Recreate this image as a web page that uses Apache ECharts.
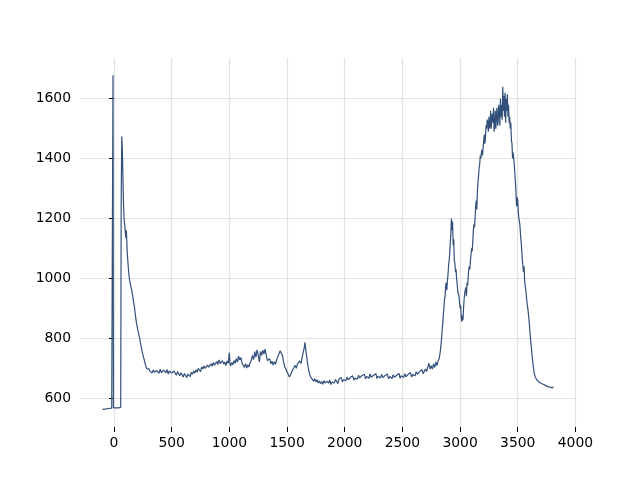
<!DOCTYPE html>
<html>
<head>
<meta charset="utf-8">
<script src="https://cdn.jsdelivr.net/npm/echarts@6/dist/echarts.min.js"></script>
<style>html,body{margin:0;padding:0;background:#fff}#c{width:640px;height:480px}</style>
</head>
<body>
<div id="c"></div>
<script>
const xTicks = [0, 500, 1000, 1500, 2000, 2500, 3000, 3500, 4000];
const yTicks = [600, 800, 1000, 1200, 1400, 1600];
const spectrum = [
[-100,562],[-90,563],[-80,563],[-70,564],[-60,564],[-50,565],[-40,565],[-30,566],[-20,566],[-13,566],[-9,1678],[-5,567],[0,566],[10,567],[20,567],[30,568],[40,567],[50,568],[58,569],
[62,1250],[67,1474],[71,1440],[75,1380],[79,1300],[83,1240],[87,1200],[91,1185],[95,1168],[99,1150],[103,1135],[107,1160],[111,1120],[115,1080],[119,1062],[123,1040],[127,1020],[131,1005],[135,995],[139,985],[143,978],[147,970],[151,966],[155,958],[159,948],[163,938],[167,928],[171,918],[175,908],[179,898],[183,884],[187,872],[191,860],[195,850],[199,842],[203,834],[207,826],[211,818],[215,812],[219,806],[223,798],[227,789],[231,780],[235,772],[239,764],[243,757],[247,750],[251,744],[255,737],[259,731],[263,726],[267,719],[271,713],[275,707],[280,702],[286,697],[292,700],[298,694],[304,697],[310,690],
[320,691],[330,683],[340,694],[350,686],[360,680],[370,692],[380,689],[390,682],[400,696],[410,685],[420,681],[430,693],[440,688],[450,684],[460,695],[470,680],[480,690],[490,693],[500,683],[510,679],[520,690],[530,686],[540,676],[550,688],[560,681],[570,674],[580,684],[590,678],[600,670],[610,682],[620,675],[630,668],[640,680],[650,677],[660,671],[670,686],[680,679],[690,690],[700,683],
[710,694],[720,686],[730,699],[740,693],[750,688],[760,704],[770,697],[780,707],[790,699],[800,694],[810,710],[820,703],[830,698],[840,714],[850,706],[860,719],[870,709],[880,704],[890,722],[900,712],[910,727],[920,715],[930,710],[940,725],[950,713],[960,720],[970,708],[980,724],[990,715],[1000,752],[1005,716],
[1010,707],[1020,718],[1030,711],[1040,725],[1050,716],[1060,731],[1070,720],[1080,740],[1090,727],[1100,735],[1110,716],[1120,710],[1130,702],[1140,715],[1150,700],[1160,711],[1170,704],[1180,718],[1190,726],[1200,742],[1210,728],[1220,755],[1230,736],[1240,761],[1250,744],[1260,720],[1270,756],[1280,742],[1290,760],[1300,747],[1310,763],[1320,742],[1330,725],[1340,719],[1350,731],[1360,714],[1370,723],[1380,710],[1390,721],[1400,713],[1410,727],[1420,739],[1430,747],[1440,758],[1450,761],[1460,742],[1470,720],[1480,704],[1490,697],[1500,686],[1510,679],[1520,670],[1530,677],[1540,686],[1550,695],[1560,702],[1570,709],[1580,699],[1590,714],[1600,719],[1610,724],[1620,715],[1630,733],[1640,752],[1650,770],[1655,786],[1660,768],[1670,740],[1680,710],[1690,689],[1700,674],[1710,667],[1720,661],[1730,656],[1740,664],
[1750,654],[1760,661],[1770,650],[1780,657],[1790,648],[1800,655],[1810,646],[1820,658],[1830,650],[1840,644],[1850,656],[1860,649],[1870,660],[1880,645],[1890,653],[1900,659],[1910,650],[1920,662],[1930,655],[1940,648],[1950,663],[1960,657],[1970,668],[1980,654],[1990,661],[2000,666],[2010,658],[2020,670],[2030,661],[2040,655],[2050,669],[2060,663],[2070,674],[2080,659],[2090,667],[2100,672],[2110,663],[2120,676],[2130,667],[2140,661],[2150,675],[2160,669],[2170,679],[2180,664],[2190,672],[2200,677],[2210,666],[2220,680],[2230,669],[2240,663],[2250,676],[2260,670],[2270,681],[2280,665],[2290,673],[2300,678],[2310,667],[2320,679],[2330,668],[2340,662],[2350,675],[2360,669],[2370,680],[2380,664],[2390,672],[2400,677],[2410,665],[2420,678],[2430,669],[2440,663],[2450,676],[2460,670],[2470,682],[2480,666],[2490,674],[2500,679],[2510,668],[2520,681],[2530,671],[2540,666],[2550,679],[2560,673],[2570,685],[2580,670],[2590,678],[2600,684],[2610,674],[2620,688],[2630,679],[2640,673],[2650,688],[2660,683],[2670,695],[2680,681],[2690,689],[2700,697],[2710,688],[2720,703],[2730,716],[2740,697],[2750,708],[2760,696],[2770,714],[2780,702],[2790,720],[2800,708],[2810,725],[2820,733],
[2830,760],[2840,800],[2845,830],[2850,850],[2855,880],[2860,900],[2865,930],[2870,940],[2875,975],[2880,985],[2885,960],[2890,990],[2895,1010],[2900,1040],[2905,1060],[2910,1080],[2915,1120],[2920,1150],[2925,1200],[2930,1160],[2935,1190],[2940,1110],[2945,1130],[2950,1060],[2955,1050],[2960,1020],[2965,1030],[2970,1000],[2975,980],[2980,955],[2985,960],[2990,940],[2995,920],[3000,900],[3005,910],[3010,870],[3015,855],[3020,875],[3025,860],[3030,900],[3035,930],[3040,950],[3045,960],[3050,970],[3055,940],[3060,985],[3065,975],[3070,1000],[3075,1030],[3080,1040],[3085,1030],[3090,1060],[3095,1080],[3100,1100],[3105,1090],[3110,1120],[3115,1160],[3120,1180],[3125,1170],[3130,1200],[3135,1240],[3140,1260],[3145,1230],[3150,1290],[3155,1320],[3160,1340],[3165,1370],[3170,1380],[3175,1410],[3180,1400],[3185,1420],[3190,1430],[3195,1410],[3200,1440],[3205,1460],[3210,1480],[3215,1450],[3220,1470],[3225,1510],[3230,1500],[3235,1530],[3240,1520],[3245,1490],[3250,1540],[3255,1500],[3260,1510],[3265,1560],[3270,1500],[3275,1540],[3280,1550],[3285,1520],[3290,1570],[3295,1490],[3300,1510],[3305,1560],[3310,1500],[3315,1550],[3320,1570],[3325,1510],[3330,1520],[3335,1580],[3340,1560],[3345,1510],[3350,1600],[3355,1540],[3360,1580],[3365,1530],[3370,1640],[3375,1560],[3380,1610],[3385,1540],[3390,1620],[3395,1520],[3400,1600],[3405,1560],[3410,1615],[3415,1540],[3420,1580],[3425,1520],[3430,1540],[3435,1500],[3440,1520],[3445,1460],[3450,1450],[3455,1400],[3460,1420],[3465,1400],[3470,1380],[3475,1350],[3480,1320],[3485,1280],[3490,1240],[3495,1270],[3500,1260],[3505,1220],[3510,1200],[3515,1190],[3520,1170],[3525,1140],[3530,1120],[3535,1090],[3540,1060],[3545,1040],[3550,1020],[3555,1040],[3560,990],[3565,975],[3570,960],[3575,940],[3580,920],[3585,905],[3590,890],[3595,870],[3600,850],[3605,825],[3610,800],[3615,780],[3620,760],[3625,740],[3630,720],[3635,705],[3640,690],[3645,680],
[3650,672],[3660,664],[3670,660],[3680,654],[3690,658],[3700,649],[3710,655],[3720,646],[3730,650],[3740,642],[3750,647],[3760,638],[3770,644],[3780,636],[3790,641],[3800,634],[3810,638]
];
const chart = echarts.init(document.getElementById('c'), null, {renderer: 'canvas'});
const font = 'DejaVu Sans';
const plain = function (v) { return String(v); };
chart.setOption({
  animation: false,
  backgroundColor: '#ffffff',
  grid: {left: 80, right: 64, top: 58, bottom: 53, containLabel: false},
  xAxis: {
    type: 'value', min: -295, max: 4005,
    axisLine: {show: false},
    axisTick: {show: true, length: 5, inside: false, customValues: xTicks, lineStyle: {color: '#000', width: 1}},
    axisLabel: {show: true, customValues: xTicks, formatter: plain, margin: 9, color: '#000', fontFamily: font, fontSize: 13.9, showMinLabel: true, showMaxLabel: true},
    splitLine: {show: true, customValues: xTicks, lineStyle: {color: '#e2e2e2', width: 1.2}}
  },
  yAxis: {
    type: 'value', min: 503, max: 1736,
    axisLine: {show: false},
    axisTick: {show: true, length: 5, inside: false, customValues: yTicks, lineStyle: {color: '#000', width: 1}},
    axisLabel: {show: true, customValues: yTicks, formatter: plain, margin: 9, color: '#000', fontFamily: font, fontSize: 13.9},
    splitLine: {show: true, customValues: yTicks, lineStyle: {color: '#e2e2e2', width: 1.2}}
  },
  series: [{
    type: 'line', data: spectrum, showSymbol: false, symbol: 'none',
    lineStyle: {color: '#33507a', width: 1.2}, sampling: null, z: 3
  }]
});
</script>
</body>
</html>
